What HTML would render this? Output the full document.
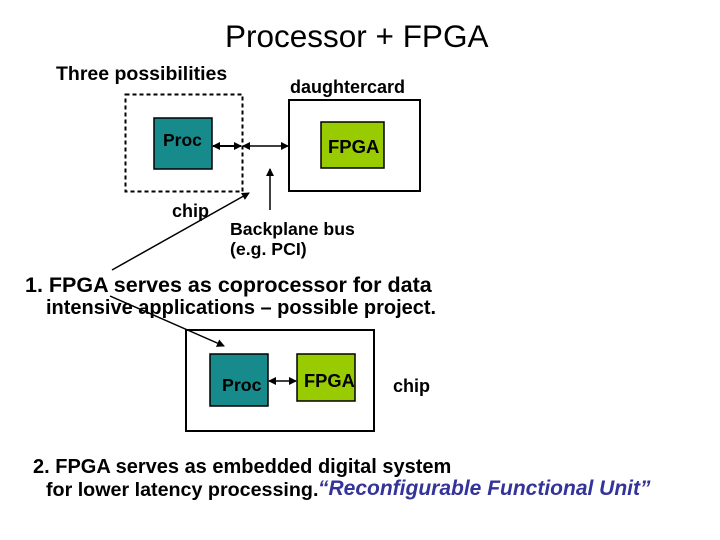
<!DOCTYPE html>
<html><head><style>
body{margin:0;width:720px;height:540px;background:#fff;position:relative;overflow:hidden;font-family:"Liberation Sans",Arial,sans-serif}
.t{position:absolute;white-space:nowrap;font-weight:bold;font-size:18px;color:#000;line-height:1}
</style></head><body>
<svg width="720" height="540" style="position:absolute;left:0;top:0">
<defs><marker id="a" markerWidth="8" markerHeight="8" refX="7" refY="4" orient="auto-start-reverse" markerUnits="userSpaceOnUse"><path d="M0,0L8,4L0,8z" fill="#000"/></marker></defs>
<rect x="125.5" y="94.5" width="117" height="97" fill="none" stroke="#000" stroke-width="2" stroke-dasharray="4,3"/>
<rect x="154" y="118" width="58" height="51" fill="#178a8c" stroke="#000" stroke-width="1.5"/>
<rect x="289" y="100" width="131" height="91" fill="none" stroke="#000" stroke-width="2"/>
<rect x="321" y="122" width="63" height="46" fill="#99cc00" stroke="#000" stroke-width="1.5"/>
<line x1="213" y1="146" x2="241" y2="146" stroke="#000" stroke-width="2" marker-start="url(#a)" marker-end="url(#a)"/>
<line x1="243" y1="146" x2="288" y2="146" stroke="#000" stroke-width="1.5" marker-start="url(#a)" marker-end="url(#a)"/>
<line x1="270" y1="210" x2="270" y2="169" stroke="#000" stroke-width="1.5" marker-end="url(#a)"/>
<line x1="112" y1="270" x2="249" y2="193" stroke="#000" stroke-width="1.5" marker-end="url(#a)"/>
<rect x="186" y="330" width="188" height="101" fill="none" stroke="#000" stroke-width="2"/>
<rect x="210" y="354" width="58" height="52" fill="#178a8c" stroke="#000" stroke-width="1.5"/>
<rect x="297" y="354" width="58" height="47" fill="#99cc00" stroke="#000" stroke-width="1.5"/>
<line x1="269" y1="381" x2="296" y2="381" stroke="#000" stroke-width="1.5" marker-start="url(#a)" marker-end="url(#a)"/>
<line x1="110" y1="296" x2="224" y2="346" stroke="#000" stroke-width="1.5" marker-end="url(#a)"/>
</svg>
<div class="t" style="left:225px;top:21px;font-size:31.5px;font-weight:normal">Processor + FPGA</div>
<div class="t" style="left:56px;top:65px;font-size:19.5px">Three possibilities</div>
<div class="t" style="left:290px;top:78px">daughtercard</div>
<div class="t" style="left:163px;top:132px;font-size:17.5px">Proc</div>
<div class="t" style="left:328px;top:138px;font-size:18.5px">FPGA</div>
<div class="t" style="left:172px;top:202px">chip</div>
<div class="t" style="left:230px;top:221px;font-size:17.7px">Backplane bus</div>
<div class="t" style="left:230px;top:241px;font-size:17.7px">(e.g. PCI)</div>
<div class="t" style="left:25px;top:275px;font-size:21.5px">1. FPGA serves as coprocessor for data</div>
<div class="t" style="left:46px;top:298px;font-size:20px">intensive applications – possible project.</div>
<div class="t" style="left:222px;top:377px;font-size:17.8px">Proc</div>
<div class="t" style="left:304px;top:372px;font-size:18.3px">FPGA</div>
<div class="t" style="left:393px;top:377px">chip</div>
<div class="t" style="left:33px;top:457px;font-size:20px">2. FPGA serves as embedded digital system</div>
<div class="t" style="left:46px;top:481px;font-size:19.7px">for lower latency processing.</div>
<div class="t" style="left:318px;top:478px;font-size:21px;font-style:italic;color:#333399">“Reconfigurable Functional Unit”</div>
</body></html>
